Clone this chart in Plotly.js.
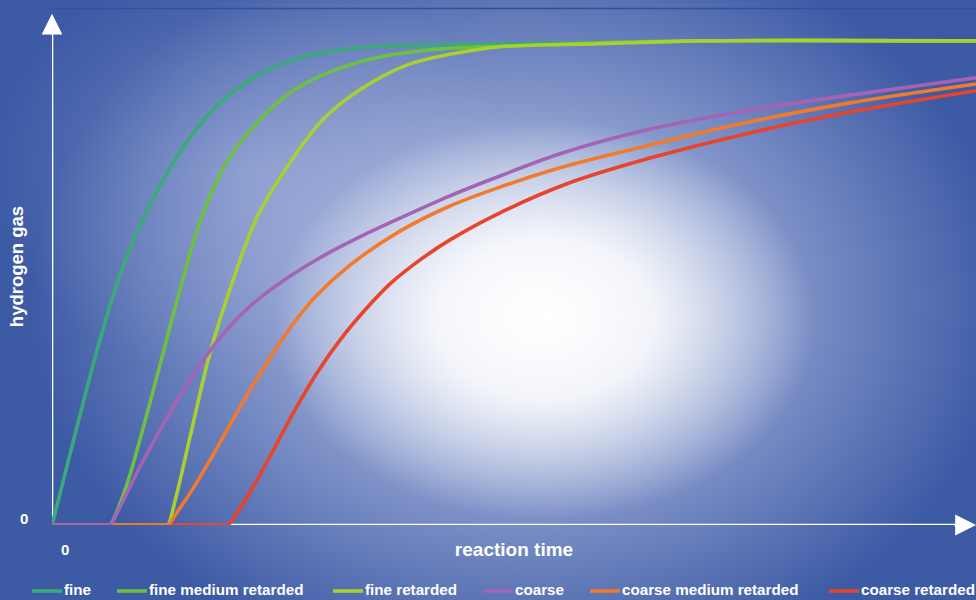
<!DOCTYPE html>
<html>
<head>
<meta charset="utf-8">
<script src="https://cdn.plot.ly/plotly-3.0.1.min.js"></script>
<style>
html, body { margin: 0; padding: 0; }
#chart {
  width: 976px; height: 600px;
  background:
    radial-gradient(ellipse 270px 200px at 545px 320px, rgba(255,255,255,1) 0%, rgba(255,255,255,0.85) 40%, rgba(255,255,255,0) 100%),
    radial-gradient(ellipse 490px 380px at 520px 300px, rgba(225,230,246,0.9) 0%, rgba(195,205,236,0.55) 50%, rgba(190,200,235,0) 100%),
    radial-gradient(ellipse 260px 210px at 250px 170px, rgba(170,182,225,0.45) 0%, rgba(170,182,225,0) 100%),
    #3d5aa5;
}
</style>
</head>
<body>
<div id="chart"></div>
<script>
// Series data (x: reaction time, y: hydrogen gas, arbitrary units 0-100)
const fineX = [0, 3.03, 5.19, 7.36, 10.06, 13.3, 17.1, 21.4, 26.8, 33.3, 40.9, 59.3, 70.1, 100];
const fineY = [0, 22.7, 38.2, 51.7, 64.0, 75.4, 85.1, 91.9, 96.5, 98.6, 99.2, 99.6, 100, 100];

const fineMedX = [0, 6.08, 6.28, 7.9, 9.52, 11.69, 13.85, 16.02, 18.72, 21.97, 25.76, 30.1, 35.5, 42.0, 50.6, 59.3, 70.1, 100];
const fineMedY = [0, 0, 0, 7.2, 17.6, 33.1, 48.6, 62.6, 74.4, 82.6, 89.3, 93.6, 96.7, 98.3, 99.0, 99.6, 100, 100];

const fineRetX = [0, 12.35, 12.55, 13.42, 14.94, 17.1, 19.6, 22.2, 25.8, 29.3, 33.0, 38.4, 43.8, 48.5, 59.3, 70.1, 100];
const fineRetY = [0, 0, 0, 5.8, 18.2, 35.5, 50.6, 63.6, 75.0, 83.7, 89.5, 95.0, 97.5, 98.8, 99.4, 100, 100];

const coarseX = [0, 6.08, 6.28, 7.9, 9.52, 11.69, 13.85, 16.02, 18.72, 21.43, 24.68, 29.0, 33.3, 37.66, 43.07, 48.48, 54.98, 64.72, 75.54, 86.36, 100];
const coarseY = [0, 0, 0, 5.8, 12.0, 19.6, 26.7, 33.1, 39.9, 45.2, 50.0, 55.2, 59.5, 63.4, 68.0, 72.1, 76.7, 81.8, 85.7, 88.8, 92.4];

const coarseMedX = [0, 12.35, 12.55, 13.85, 15.15, 17.1, 19.26, 21.43, 23.59, 25.76, 28.68, 32.25, 37.66, 43.07, 48.48, 55.74, 64.72, 75.54, 86.36, 100];
const coarseMedY = [0, 0, 0, 3.5, 7.2, 13.4, 20.7, 27.9, 34.5, 40.7, 47.5, 53.7, 60.7, 65.9, 69.8, 74.2, 78.5, 83.3, 87.2, 91.1];

const coarseRetX = [0, 18.85, 19.05, 20.35, 22.19, 24.13, 26.3, 28.68, 31.17, 33.87, 36.58, 39.5, 43.07, 48.48, 55.74, 64.72, 75.54, 86.36, 100];
const coarseRetY = [0, 0, 0, 3.5, 9.3, 16.1, 23.8, 31.4, 38.2, 44.4, 49.8, 54.3, 58.9, 64.5, 70.5, 75.8, 81.0, 85.3, 89.7];

const seriesNames = ['fine', 'fine medium retarded', 'fine retarded', 'coarse', 'coarse medium retarded', 'coarse retarded'];
const seriesColors = ['#3aab78', '#6dc040', '#a8d030', '#a464b4', '#f27a2c', '#e8432c'];
const axisTitleX = 'reaction time';
const axisTitleY = 'hydrogen gas';
const zeroLabel = '0';

const xs = [fineX, fineMedX, fineRetX, coarseX, coarseMedX, coarseRetX];
const ys = [fineY, fineMedY, fineRetY, coarseY, coarseMedY, coarseRetY];

// draw order: greens, then coarse retarded, coarse medium, coarse (so flat parts show as in the original)
const drawOrder = [0, 1, 2, 5, 4, 3];
const traces = drawOrder.map(i => ({
  type: 'scatter', mode: 'lines',
  x: xs[i], y: ys[i], name: seriesNames[i],
  legendrank: i + 1,
  line: { color: seriesColors[i], width: 3.6, shape: 'spline', smoothing: 1 },
  hoverinfo: 'skip'
}));

const X_MAX = 100, Y_MAX = 106.8;
const white = '#ffffff';
const FONT = 'Liberation Sans, Arial, Helvetica, sans-serif';

// legend drawn as line samples + text below the plot
const legendSampleLeft = [32, 117, 333, 483, 590, 829];   // pixel positions in the figure
const mL = 52, plotW = 924, mT = 8, plotH = 517;
const legendY = (mT + plotH - 591) / plotH;
const legendShapes = seriesNames.map((n, i) => ({
  type: 'line', xref: 'paper', yref: 'paper',
  x0: (legendSampleLeft[i] - mL) / plotW, x1: (legendSampleLeft[i] + 30 - mL) / plotW,
  y0: legendY, y1: legendY, line: { color: seriesColors[i], width: 3.6 }
}));
const legendTexts = seriesNames.map((n, i) => ({
  xref: 'paper', yref: 'paper', x: (legendSampleLeft[i] + 30 - mL) / plotW, y: legendY + 0.002,
  xanchor: 'left', yanchor: 'middle', text: n, showarrow: false,
  font: { size: 15.2, color: white, family: FONT, weight: 'bold' }
}));

const layout = {
  width: 976, height: 600,
  margin: { l: mL, r: 0, t: mT, b: 600 - mT - plotH },
  paper_bgcolor: 'rgba(0,0,0,0)',
  plot_bgcolor: 'rgba(0,0,0,0)',
  font: { family: FONT, color: white },
  showlegend: false,
  xaxis: {
    range: [0, X_MAX], showgrid: false, zeroline: false, showline: false, automargin: false,
    showticklabels: false, ticks: '', fixedrange: true,
    title: { text: axisTitleX, standoff: 17, font: { size: 19, color: white, family: FONT, weight: 'bold' } }
  },
  yaxis: {
    range: [0, Y_MAX], showgrid: false, zeroline: false, showline: false, automargin: false,
    showticklabels: false, ticks: '', fixedrange: true,
    title: { text: axisTitleY, standoff: 22, font: { size: 18.5, color: white, family: FONT, weight: 'bold' } }
  },
  shapes: [
    { type: 'line', xref: 'x', yref: 'y', x0: 0, y0: 0, x1: 0, y1: 104.5, layer: 'below', line: { color: white, width: 2.6 } },
    { type: 'line', xref: 'x', yref: 'y', x0: 0, y0: 0, x1: 99, y1: 0, layer: 'below', line: { color: white, width: 2.6 } },
    { type: 'line', xref: 'paper', yref: 'paper', x0: -0.002, y0: 0.999, x1: 1, y1: 0.999, layer: 'below', line: { color: '#33509a', width: 1.5 } }
  ].concat(legendShapes),
  annotations: [
    { xref: 'x', yref: 'y', axref: 'x', ayref: 'y', x: 0, y: 105.6, ax: 0, ay: 101, text: '', showarrow: true, arrowhead: 2, arrowsize: 1.6, arrowwidth: 2.6, arrowcolor: white },
    { xref: 'x', yref: 'y', axref: 'x', ayref: 'y', x: 100, y: 0, ax: 97.5, ay: 0, text: '', showarrow: true, arrowhead: 2, arrowsize: 1.6, arrowwidth: 2.6, arrowcolor: white },
    { xref: 'paper', yref: 'y', x: (24 - mL) / plotW, y: 1.3, xanchor: 'center', yanchor: 'middle', text: zeroLabel, showarrow: false, font: { size: 15, color: white, family: FONT, weight: 'bold' } },
    { xref: 'x', yref: 'paper', x: 1.4, y: -24 / plotH, xanchor: 'center', yanchor: 'middle', text: zeroLabel, showarrow: false, font: { size: 15, color: white, family: FONT, weight: 'bold' } }
  ].concat(legendTexts)
};

Plotly.newPlot('chart', traces, layout, { displayModeBar: false, staticPlot: true });
</script>
</body>
</html>
